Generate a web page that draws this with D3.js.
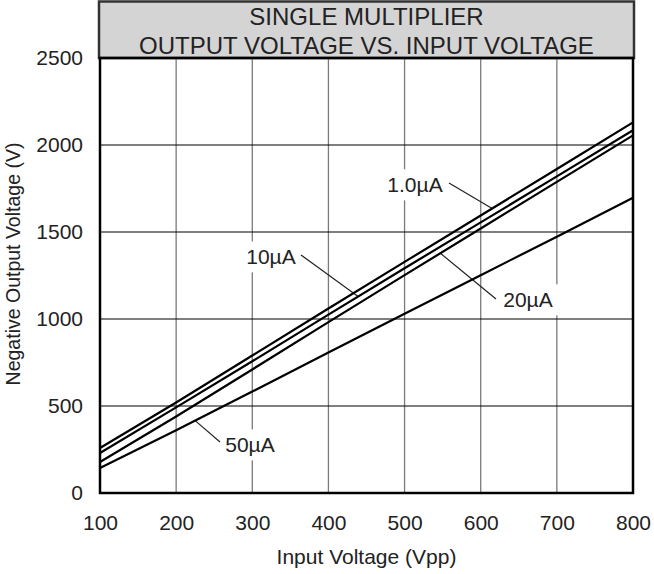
<!DOCTYPE html>
<html><head><meta charset="utf-8">
<script src="https://cdn.jsdelivr.net/npm/d3@7"></script>
<style>body{margin:0;background:#fff}svg{display:block}text{font-family:"Liberation Sans",Arial,sans-serif;fill:#222}</style>
</head><body><svg id="c" width="654" height="574"></svg>
<script>
const inputV = [100,200,300,400,500,600,700,800];
const s1uA  = [259,520,790,1060,1328,1595,1862,2130];
const s10uA = [230,492,757,1025,1292,1555,1820,2085];
const s20uA = [178,440,710,982,1252,1520,1788,2055];
const s50uA = [144,360,583,808,1030,1252,1473,1697];
const seriesNames = ["1.0µA","10µA","20µA","50µA"];
const xTicks = [100,200,300,400,500,600,700,800];
const yTicks = [0,500,1000,1500,2000,2500];
const titleLines = ["SINGLE MULTIPLIER","OUTPUT VOLTAGE VS. INPUT VOLTAGE"];

const svg = d3.select("#c");
const L=100,R=633,T=58,B=493;
const x = d3.scaleLinear().domain([100,800]).range([L,R]);
const y = d3.scaleLinear().domain([0,2500]).range([B,T]);

// title box
svg.append("rect").attr("x",L-1).attr("y",1.5).attr("width",R-L+2).attr("height",T-1.5)
  .attr("fill","#d4d4d4").attr("stroke","#333").attr("stroke-width",2.5);
titleLines.forEach((t,i)=>svg.append("text").attr("x",(L+R)/2).attr("y",25+i*29)
  .attr("text-anchor","middle").attr("font-size",24).text(t));

// grid
const g = svg.append("g");
g.selectAll(".vg").data(xTicks.slice(1,-1)).join("line")
  .attr("x1",d=>x(d)).attr("x2",d=>x(d)).attr("y1",T).attr("y2",B)
  .attr("stroke","#7a7a7a").attr("stroke-width",1.3);
g.selectAll(".hg").data(yTicks.slice(1,-1)).join("line")
  .attr("x1",L).attr("x2",R).attr("y1",d=>y(d)).attr("y2",d=>y(d))
  .attr("stroke","#000").attr("stroke-width",1.2);

// axes labels via d3 axes
const xa = svg.append("g").attr("transform",`translate(0,${B})`)
  .call(d3.axisBottom(x).tickValues(xTicks).tickFormat(d3.format("d")).tickSize(0).tickPadding(22));
xa.select(".domain").remove();
xa.selectAll("text").attr("font-size",21).attr("fill","#222").attr("font-family","Liberation Sans, Arial");
const ya = svg.append("g").attr("transform",`translate(${L},0)`)
  .call(d3.axisLeft(y).tickValues(yTicks).tickFormat(d3.format("d")).tickSize(0).tickPadding(17));
ya.select(".domain").remove();
ya.selectAll("text").attr("font-size",21).attr("fill","#222").attr("font-family","Liberation Sans, Arial");

svg.append("text").attr("x",(L+R)/2).attr("y",564).attr("text-anchor","middle")
  .attr("font-size",21).text("Input Voltage (Vpp)");
svg.append("text").attr("transform",`translate(20,264) rotate(-90)`).attr("text-anchor","middle")
  .attr("font-size",19.5).text("Negative Output Voltage (V)");

// labels with white background
const labels = [
  {name:seriesNames[0], tx:415, ty:185, lx1:449, ly1:183, s:s1uA, lv:615},
  {name:seriesNames[1], tx:271, ty:257, lx1:301, ly1:255, s:s10uA, lv:439},
  {name:seriesNames[2], tx:528, ty:300, lx1:496, ly1:299, s:s20uA, lv:547},
  {name:seriesNames[3], tx:250, ty:445, lx1:220, ly1:442, s:s50uA, lv:225}
];
const lineGen = d3.line().x((d,i)=>x(inputV[i])).y(d=>y(d));
const interp = (s,v)=>{ const i=Math.min(6,Math.floor((v-100)/100)); const t=(v-inputV[i])/100; return s[i]+(s[i+1]-s[i])*t; };
const bgG = svg.append("g"), txG = svg.append("g"), ldG = svg.append("g");
labels.forEach(l=>{
  const t = txG.append("text").attr("x",l.tx).attr("y",l.ty).attr("dy","0.35em")
    .attr("text-anchor","middle").attr("font-size",21).text(l.name);
  const bb = t.node().getBBox();
  bgG.append("rect").attr("x",bb.x-6).attr("y",bb.y-4).attr("width",bb.width+12).attr("height",bb.height+8).attr("fill","#fff");
  ldG.append("line").attr("x1",l.lx1).attr("y1",l.ly1).attr("x2",x(l.lv)).attr("y2",y(interp(l.s,l.lv)))
    .attr("stroke","#222").attr("stroke-width",1.2);
});

// curves
[s1uA,s10uA,s20uA,s50uA].forEach(s=>svg.append("path").datum(s).attr("d",lineGen)
  .attr("fill","none").attr("stroke","#000").attr("stroke-width",2.2));

// plot border
svg.append("rect").attr("x",L).attr("y",T).attr("width",R-L).attr("height",B-T)
  .attr("fill","none").attr("stroke","#000").attr("stroke-width",2.5);
</script></body></html>
